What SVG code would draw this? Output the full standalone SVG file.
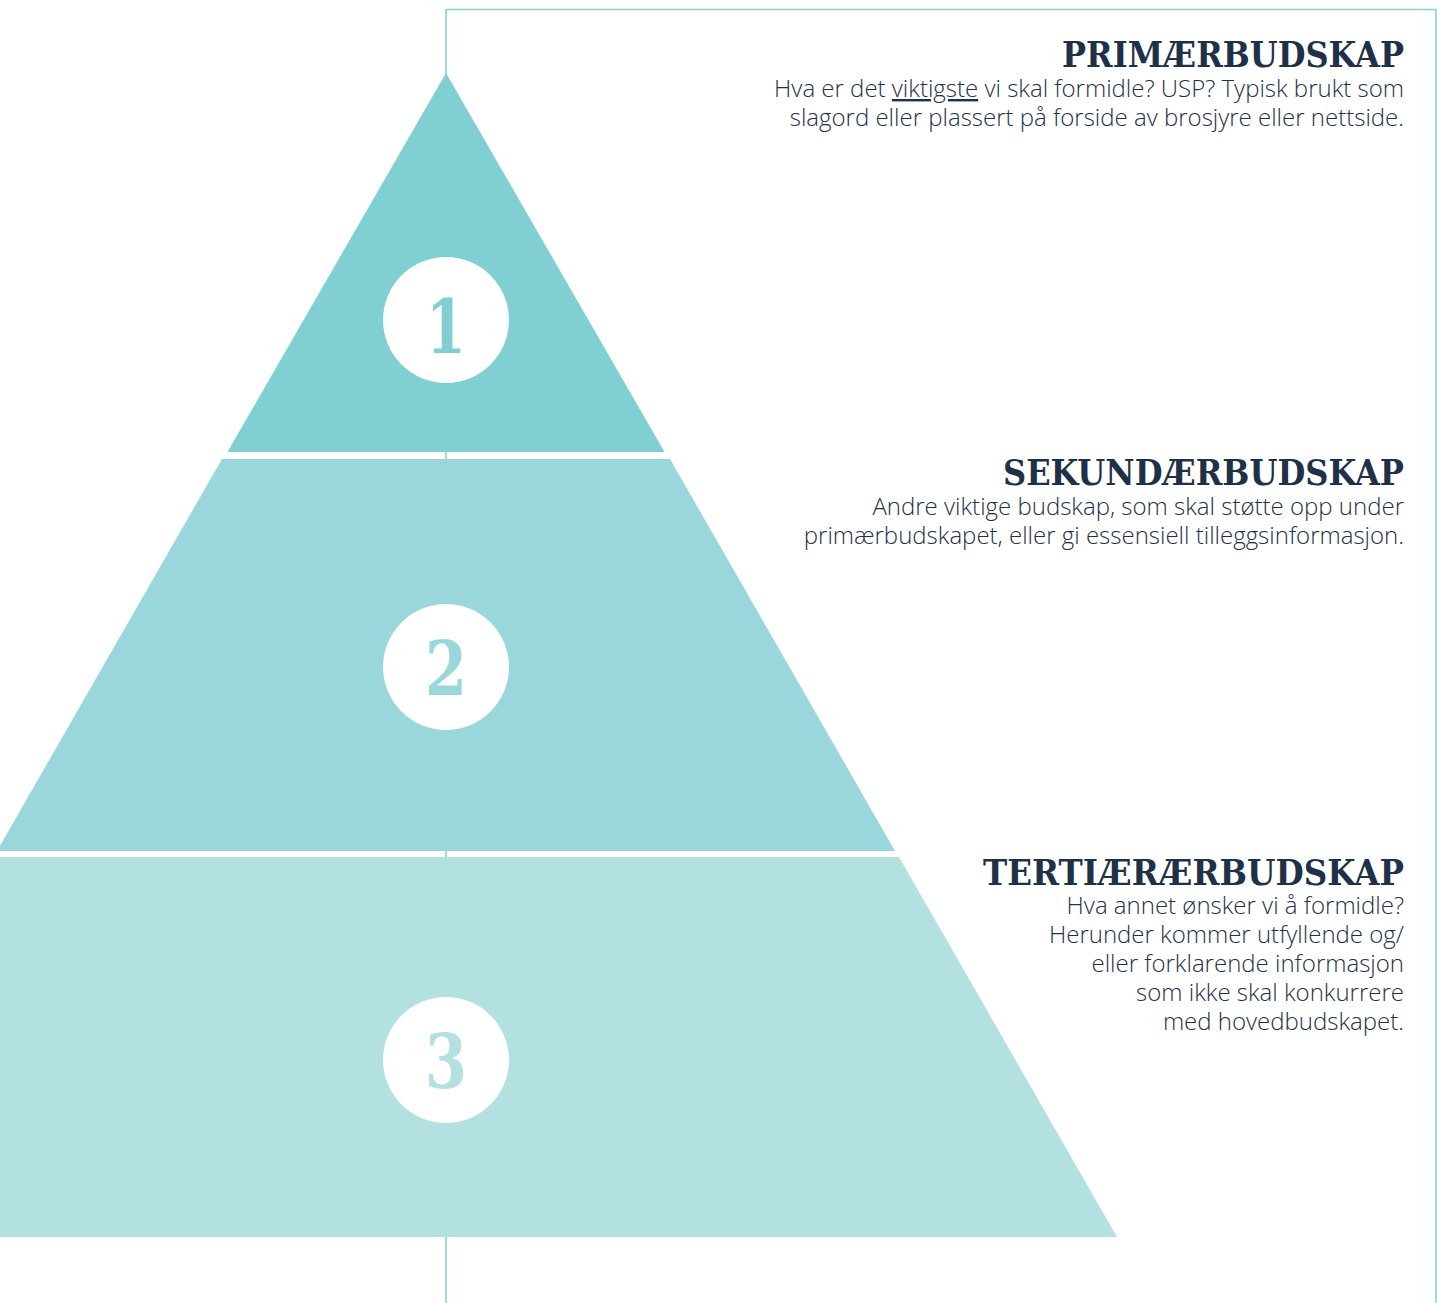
<svg xmlns="http://www.w3.org/2000/svg" width="1437" height="1303" viewBox="0 0 1437 1303">
  <defs>
    <style>
      .frame { fill: none; stroke: #86d3d4; stroke-width: 1.6; }
      .t1 { fill: #7fcfd3; }
      .t2 { fill: #9ad7dc; }
      .t3 { fill: #b3e0e1; }
      .disc { fill: #ffffff; }
      .num { font-family: "DejaVu Serif", "Liberation Serif", serif; font-weight: bold; font-size: 74px; text-anchor: middle; }
      .head { font-family: "DejaVu Serif", "Liberation Serif", serif; font-weight: bold; font-size: 36px; fill: #1e3148; text-anchor: end; }
      .body { font-family: "Open Sans", "Liberation Sans", sans-serif; font-weight: 300; font-size: 24px; fill: #1e3148; text-anchor: end; }
    </style>
  </defs>

  <!-- frame lines running behind the pyramid -->
  <g id="connectors">
    <path class="frame" d="M446 1303 V9.5 H1436 V1303"/>
  </g>

  <!-- tier 1 -->
  <g id="tier1">
    <polygon class="t1" points="446,73 664.5,452 227.5,452"/>
    <circle class="disc" cx="446" cy="320" r="63"/>
    <text class="num" x="446" y="353" fill="#7fcfd3" textLength="40" lengthAdjust="spacingAndGlyphs">1</text>
  </g>

  <!-- tier 2 -->
  <g id="tier2">
    <polygon class="t2" points="222,459 670,459 895,851 -3,851"/>
    <circle class="disc" cx="446" cy="667" r="63"/>
    <text class="num" x="446" y="695" fill="#9ad7dc" textLength="42" lengthAdjust="spacingAndGlyphs">2</text>
  </g>

  <!-- tier 3 -->
  <g id="tier3">
    <polygon class="t3" points="-10,857 899,857 1117,1237 -10,1237"/>
    <circle class="disc" cx="446" cy="1060" r="63"/>
    <text class="num" x="446" y="1088" fill="#b3e0e1" textLength="42" lengthAdjust="spacingAndGlyphs">3</text>
  </g>

  <!-- captions -->
  <g id="primary">
    <text class="head" x="1404" y="67" textLength="342" lengthAdjust="spacingAndGlyphs">PRIMÆRBUDSKAP</text>
    <text class="body" x="1404" y="97">Hva er det <tspan text-decoration="underline">viktigste</tspan> vi skal formidle? USP? Typisk brukt som</text>
    <text class="body" x="1404" y="126">slagord eller plassert på forside av brosjyre eller nettside.</text>
  </g>

  <g id="secondary">
    <text class="head" x="1404" y="485" textLength="401" lengthAdjust="spacingAndGlyphs">SEKUNDÆRBUDSKAP</text>
    <text class="body" x="1404" y="515">Andre viktige budskap, som skal støtte opp under</text>
    <text class="body" x="1404" y="544">primærbudskapet, eller gi essensiell tilleggsinformasjon.</text>
  </g>

  <g id="tertiary">
    <text class="head" x="1404" y="885" textLength="421" lengthAdjust="spacingAndGlyphs">TERTIÆRÆRBUDSKAP</text>
    <text class="body" x="1404" y="914">Hva annet ønsker vi å formidle?</text>
    <text class="body" x="1404" y="943">Herunder kommer utfyllende og/</text>
    <text class="body" x="1404" y="972">eller forklarende informasjon</text>
    <text class="body" x="1404" y="1001">som ikke skal konkurrere</text>
    <text class="body" x="1404" y="1030">med hovedbudskapet.</text>
  </g>
</svg>
